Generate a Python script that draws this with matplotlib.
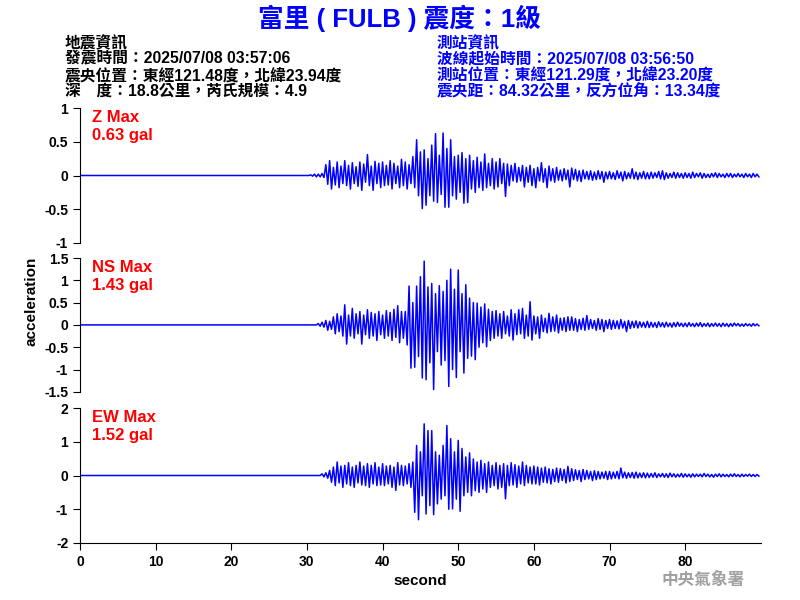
import numpy as np
import matplotlib.pyplot as plt

plt.rcParams['font.family'] = ['Liberation Sans', 'Noto Sans CJK TC']
plt.rcParams['font.weight'] = 'bold'

# min/max per 0.5 s bin, from 30 s to 90 s
dt = 0.5
t = np.arange(0, 90, dt)
quiet = [0.0] * 60   # 0 - 30 s flat before the P wave

z_hi = [0, 0.01, 0.02, 0.02, 0.03, 0.16, 0.22, 0.12, 0.20, 0.14,
        0.22, 0.15, 0.19, 0.13, 0.20, 0.17, 0.31, 0.14, 0.21, 0.18,
        0.20, 0.15, 0.22, 0.18, 0.14, 0.24, 0.20, 0.16, 0.28, 0.53,
        0.35, 0.38, 0.25, 0.45, 0.62, 0.30, 0.63, 0.40, 0.53, 0.28,
        0.30, 0.34, 0.25, 0.30, 0.22, 0.27, 0.20, 0.32, 0.18, 0.25,
        0.20, 0.25, 0.18, 0.17, 0.15, 0.18, 0.12, 0.15, 0.12, 0.15,
        0.10, 0.12, 0.19, 0.10, 0.14, 0.10, 0.12, 0.08, 0.10, 0.08,
        0.11, 0.09, 0.07, 0.08, 0.06, 0.07, 0.05, 0.07, 0.06, 0.05,
        0.06, 0.04, 0.07, 0.05, 0.06, 0.04, 0.10, 0.05, 0.04, 0.06,
        0.04, 0.05, 0.04, 0.06, 0.07, 0.04, 0.03, 0.05, 0.04, 0.03,
        0.04, 0.03, 0.05, 0.03, 0.04, 0.03, 0.02, 0.03, 0.04, 0.03,
        0.02, 0.03, 0.03, 0.02, 0.03, 0.02, 0.03, 0.02, 0.03, 0.02]
z_lo = [0, -0.01, -0.02, -0.02, -0.03, -0.13, -0.20, -0.14, -0.18, -0.12,
        -0.15, -0.20, -0.12, -0.16, -0.22, -0.10, -0.15, -0.22, -0.12, -0.18,
        -0.15, -0.14, -0.20, -0.12, -0.18, -0.15, -0.20, -0.12, -0.18, -0.30,
        -0.49, -0.44, -0.30, -0.38, -0.40, -0.28, -0.47, -0.47, -0.30, -0.35,
        -0.25, -0.41, -0.40, -0.20, -0.25, -0.18, -0.22, -0.18, -0.15, -0.20,
        -0.17, -0.12, -0.31, -0.15, -0.08, -0.10, -0.08, -0.17, -0.10, -0.15,
        -0.18, -0.08, -0.10, -0.18, -0.08, -0.10, -0.07, -0.08, -0.06, -0.17,
        -0.06, -0.08, -0.09, -0.05, -0.06, -0.07, -0.06, -0.05, -0.10, -0.05,
        -0.05, -0.06, -0.04, -0.08, -0.05, -0.04, -0.05, -0.06, -0.04, -0.05,
        -0.05, -0.04, -0.03, -0.05, -0.06, -0.04, -0.03, -0.04, -0.03, -0.04,
        -0.03, -0.04, -0.03, -0.02, -0.04, -0.03, -0.03, -0.02, -0.03, -0.02,
        -0.03, -0.02, -0.03, -0.02, -0.02, -0.03, -0.02, -0.03, -0.02, -0.02]

ns_hi = [0, 0, 0, 0.03, 0.06, 0.10, 0.08, 0.18, 0.25, 0.20,
         0.45, 0.22, 0.37, 0.25, 0.30, 0.22, 0.34, 0.28, 0.25, 0.30,
         0.22, 0.32, 0.28, 0.35, 0.43, 0.30, 0.30, 0.87, 0.50, 0.87,
         1.08, 1.43, 0.85, 0.93, 0.70, 0.88, 0.75, 1.00, 1.25, 0.80,
         1.23, 0.70, 0.90, 0.60, 0.50, 0.49, 0.40, 0.47, 0.35, 0.30,
         0.32, 0.25, 0.30, 0.20, 0.34, 0.25, 0.34, 0.37, 0.22, 0.52,
         0.20, 0.18, 0.22, 0.15, 0.26, 0.18, 0.22, 0.15, 0.16, 0.18,
         0.18, 0.14, 0.12, 0.15, 0.21, 0.12, 0.10, 0.14, 0.12, 0.10,
         0.12, 0.10, 0.09, 0.12, 0.08, 0.10, 0.08, 0.09, 0.07, 0.06,
         0.08, 0.06, 0.05, 0.07, 0.05, 0.06, 0.04, 0.05, 0.06, 0.04,
         0.04, 0.05, 0.03, 0.04, 0.05, 0.03, 0.04, 0.03, 0.04, 0.03,
         0.04, 0.03, 0.03, 0.04, 0.03, 0.02, 0.03, 0.02, 0.03, 0.02]
ns_lo = [0, 0, 0, -0.03, -0.05, -0.12, -0.10, -0.20, -0.15, -0.25,
         -0.43, -0.25, -0.30, -0.20, -0.43, -0.22, -0.30, -0.25, -0.35, -0.22,
         -0.30, -0.25, -0.35, -0.28, -0.40, -0.30, -0.45, -0.97, -0.95, -0.71,
         -1.19, -1.23, -0.85, -1.45, -0.60, -0.90, -0.80, -1.38, -1.00, -1.18,
         -0.60, -1.08, -0.75, -0.70, -0.78, -0.50, -0.40, -0.49, -0.35, -0.30,
         -0.25, -0.30, -0.20, -0.25, -0.34, -0.22, -0.20, -0.30, -0.25, -0.34,
         -0.20, -0.30, -0.15, -0.18, -0.15, -0.14, -0.18, -0.12, -0.15, -0.12,
         -0.12, -0.15, -0.10, -0.12, -0.10, -0.08, -0.12, -0.10, -0.15, -0.08,
         -0.10, -0.08, -0.09, -0.07, -0.15, -0.08, -0.06, -0.07, -0.05, -0.06,
         -0.06, -0.05, -0.06, -0.04, -0.05, -0.04, -0.05, -0.04, -0.03, -0.04,
         -0.04, -0.03, -0.04, -0.03, -0.04, -0.03, -0.04, -0.03, -0.03, -0.04,
         -0.03, -0.04, -0.03, -0.02, -0.03, -0.03, -0.02, -0.03, -0.02, -0.02]

ew_hi = [0, 0, 0, 0, 0.05, 0.08, 0.15, 0.25, 0.40, 0.28,
         0.30, 0.38, 0.25, 0.30, 0.40, 0.28, 0.35, 0.30, 0.38, 0.25,
         0.35, 0.28, 0.30, 0.25, 0.38, 0.30, 0.28, 0.35, 0.40, 0.89,
         0.70, 1.53, 1.33, 1.33, 0.70, 0.60, 0.89, 1.48, 1.09, 0.70,
         1.04, 0.80, 0.55, 0.67, 0.49, 0.40, 0.45, 0.35, 0.40, 0.30,
         0.38, 0.30, 0.35, 0.30, 0.38, 0.32, 0.28, 0.40, 0.30, 0.25,
         0.28, 0.25, 0.22, 0.25, 0.20, 0.18, 0.22, 0.20, 0.18, 0.27,
         0.20, 0.17, 0.15, 0.18, 0.15, 0.12, 0.14, 0.12, 0.10, 0.12,
         0.12, 0.10, 0.12, 0.22, 0.10, 0.08, 0.09, 0.10, 0.07, 0.08,
         0.07, 0.06, 0.08, 0.05, 0.06, 0.05, 0.07, 0.05, 0.04, 0.06,
         0.05, 0.04, 0.05, 0.04, 0.04, 0.06, 0.04, 0.03, 0.04, 0.05,
         0.04, 0.03, 0.04, 0.05, 0.03, 0.04, 0.03, 0.04, 0.03, 0.03]
ew_lo = [0, 0, 0, 0, -0.04, -0.08, -0.20, -0.30, -0.22, -0.35,
         -0.25, -0.30, -0.35, -0.22, -0.28, -0.30, -0.35, -0.25, -0.30, -0.28,
         -0.30, -0.25, -0.35, -0.44, -0.28, -0.30, -0.25, -0.35, -1.09, -1.31,
         -0.60, -1.14, -0.89, -1.16, -0.84, -0.70, -0.60, -1.00, -0.99, -0.70,
         -1.06, -0.60, -0.50, -0.60, -0.45, -0.50, -0.40, -0.50, -0.35, -0.30,
         -0.40, -0.35, -0.69, -0.30, -0.28, -0.35, -0.25, -0.30, -0.22, -0.25,
         -0.25, -0.28, -0.20, -0.22, -0.25, -0.18, -0.20, -0.15, -0.22, -0.18,
         -0.15, -0.12, -0.18, -0.12, -0.10, -0.15, -0.12, -0.10, -0.08, -0.12,
         -0.10, -0.08, -0.10, -0.07, -0.08, -0.06, -0.08, -0.07, -0.06, -0.07,
         -0.06, -0.05, -0.06, -0.04, -0.05, -0.06, -0.04, -0.05, -0.04, -0.05,
         -0.04, -0.05, -0.04, -0.03, -0.04, -0.03, -0.04, -0.05, -0.03, -0.04,
         -0.03, -0.04, -0.03, -0.03, -0.04, -0.03, -0.02, -0.03, -0.03, -0.02]

labels = ['Z Max\n0.63 gal', 'NS Max\n1.43 gal', 'EW Max\n1.52 gal']
yticks = [[1, 0.5, 0, -0.5, -1],
          [1.5, 1, 0.5, 0, -0.5, -1, -1.5],
          [2, 1, 0, -1, -2]]
xticks = [0, 10, 20, 30, 40, 50, 60, 70, 80]

title = '富里 ( FULB ) 震度：1級'
left_info = ['地震資訊',
             '發震時間：2025/07/08 03:57:06',
             '震央位置：東經121.48度，北緯23.94度',
             '深　度：18.8公里，芮氏規模：4.9']
right_info = ['測站資訊',
              '波線起始時間：2025/07/08 03:56:50',
              '測站位置：東經121.29度，北緯23.20度',
              '震央距：84.32公里，反方位角：13.34度']


def minmax_line(hi, lo):
    # draw each bin as max -> min so the trace keeps its envelope
    hi = np.array(quiet + hi)
    lo = np.array(quiet + lo)
    x = np.empty(2 * len(t))
    y = np.empty(2 * len(t))
    x[0::2] = t
    x[1::2] = t + dt / 2
    y[0::2] = hi
    y[1::2] = lo
    return x, y


fig = plt.figure(figsize=(8, 6), dpi=100)
boxes = [[0.1, 0.595, 0.851, 0.225],
         [0.1, 0.347, 0.851, 0.223],
         [0.1, 0.095, 0.851, 0.225]]
traces = [(z_hi, z_lo), (ns_hi, ns_lo), (ew_hi, ew_lo)]

for i in range(3):
    ax = fig.add_axes(boxes[i])
    x, y = minmax_line(*traces[i])
    ax.plot(x, y, color='#0000ff', lw=1.1)
    lim = yticks[i][0]
    ax.set_ylim(-lim, lim)
    ax.set_xlim(0, 90)
    ax.set_yticks(yticks[i])
    ax.set_yticklabels([('%g' % v) for v in yticks[i]])
    ax.spines['top'].set_visible(False)
    ax.spines['right'].set_visible(False)
    ax.tick_params(labelsize=10, length=5, direction='out')
    if i < 2:
        ax.spines['bottom'].set_visible(False)
        ax.tick_params(axis='x', bottom=False, labelbottom=False)
    else:
        ax.set_xticks(xticks)
        ax.set_xlabel('second', fontsize=11, fontweight='bold')
    ax.text(0.018, 0.985, labels[i], transform=ax.transAxes, va='top',
            ha='left', color='#ff0000', fontsize=12, linespacing=1.25)

fig.text(0.04, 0.497, 'acceleration', rotation=90, ha='center', va='center',
         fontsize=11)
fig.text(0.5, 0.97, title, ha='center', va='center', fontsize=18.5,
         color='#0000ff')
for k in range(4):
    fig.text(0.081, 0.928 - k * 0.0267, left_info[k], ha='left', va='center',
             fontsize=11.3, color='black')
    fig.text(0.546, 0.928 - k * 0.0267, right_info[k], ha='left', va='center',
             fontsize=11.3, color='#0000ff')
fig.text(0.931, 0.033, '中央氣象署', ha='right', va='center', fontsize=12,
         color='#a0a0a0')

fig.savefig('out.png', dpi=100)
